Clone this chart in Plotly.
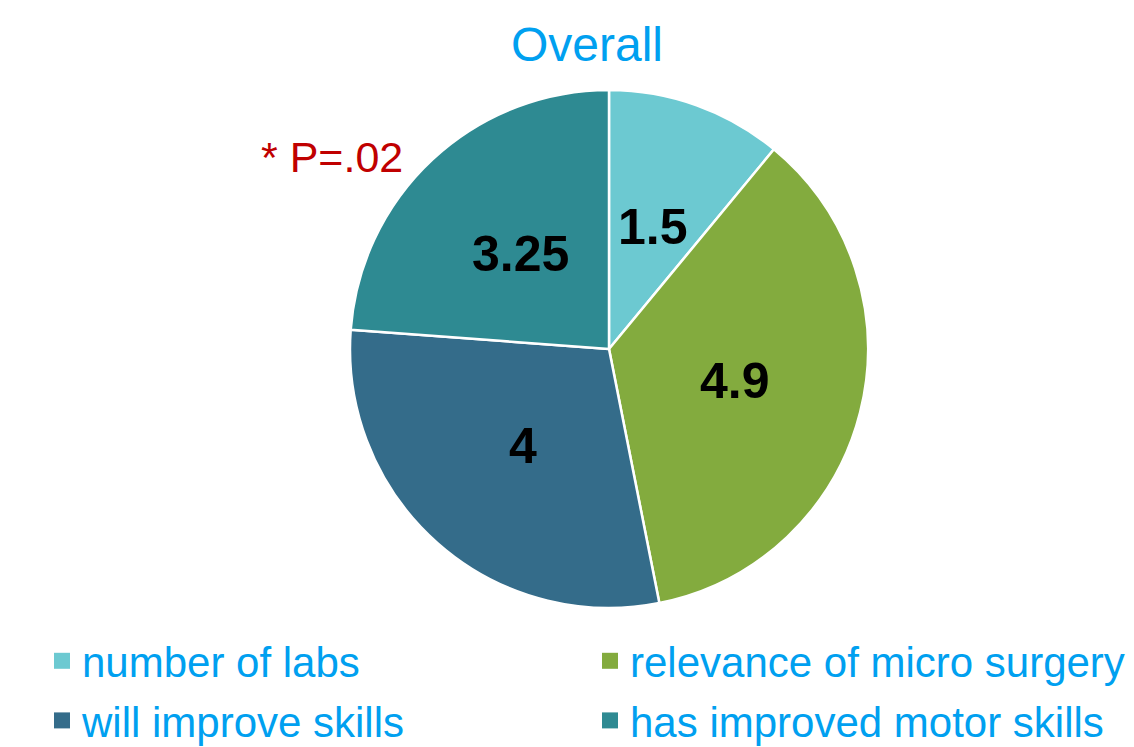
import math
import plotly.graph_objects as go

categories = ["number of labs", "relevance of micro surgery", "will improve skills", "has improved motor skills"]
values = [1.5, 4.9, 4, 3.25]
value_labels = ["1.5", "4.9", "4", "3.25"]
colors = ["#6CC9D1", "#83AB3E", "#346C8A", "#2E8A92"]
legend_column = ["legend", "legend2", "legend", "legend2"]

W, H = 1134, 747
cx, cy, r = 609, 349, 259

fig = go.Figure()
fig.add_trace(go.Pie(
    labels=categories, values=values,
    textinfo="none",
    sort=False, direction="clockwise", rotation=0,
    marker=dict(colors=colors, line=dict(color="white", width=2.5)),
    showlegend=False, hoverinfo="label+value",
    domain=dict(x=[(cx - r) / W, (cx + r) / W], y=[1 - (cy + r) / H, 1 - (cy - r) / H]),
))

# value labels placed at half radius along each slice's mid angle
total = sum(values)
cum = 0.0
for v, lab in zip(values, value_labels):
    mid = (cum + v / 2) / total * 2 * math.pi
    cum += v
    px = cx + 0.5 * r * math.sin(mid)
    py = cy - 0.5 * r * math.cos(mid)
    fig.add_annotation(text=f"<b>{lab}</b>", x=px / W, y=1 - py / H, xref="paper", yref="paper",
                       showarrow=False, xanchor="center", yanchor="middle",
                       font=dict(family="Liberation Sans, Arial", size=50, color="black"))

for name, col, lg in zip(categories, colors, legend_column):
    fig.add_trace(go.Scatter(x=[None], y=[None], mode="markers", name=name,
                             marker=dict(symbol="square", size=22, color=col),
                             legend=lg, legendgroup=name, showlegend=True))

fig.add_annotation(text="* P=.02", x=332 / W, y=1 - 157 / H, xref="paper", yref="paper",
                   showarrow=False, xanchor="center", yanchor="middle",
                   font=dict(family="Liberation Sans, Arial", size=43, color="#C00000"))

legend_style = dict(orientation="v", xanchor="left", y=1 - 627 / H, yanchor="top",
                    itemsizing="trace", tracegroupgap=2,
                    font=dict(family="Liberation Sans, Arial", size=42, color="#00A0F0"),
                    bgcolor="rgba(0,0,0,0)", itemwidth=30)

fig.update_layout(
    width=W, height=H,
    margin=dict(l=0, r=0, t=0, b=0, autoexpand=False),
    paper_bgcolor="white", plot_bgcolor="white",
    title=dict(text="Overall", x=587 / W, xanchor="center", y=1 - 44 / H, yanchor="middle",
               font=dict(family="Liberation Sans, Arial", size=48, color="#00A0F0")),
    xaxis=dict(visible=False), yaxis=dict(visible=False),
    legend=dict(x=42 / W, **legend_style),
    legend2=dict(x=590 / W, **legend_style),
)

fig.write_html("out.html")
